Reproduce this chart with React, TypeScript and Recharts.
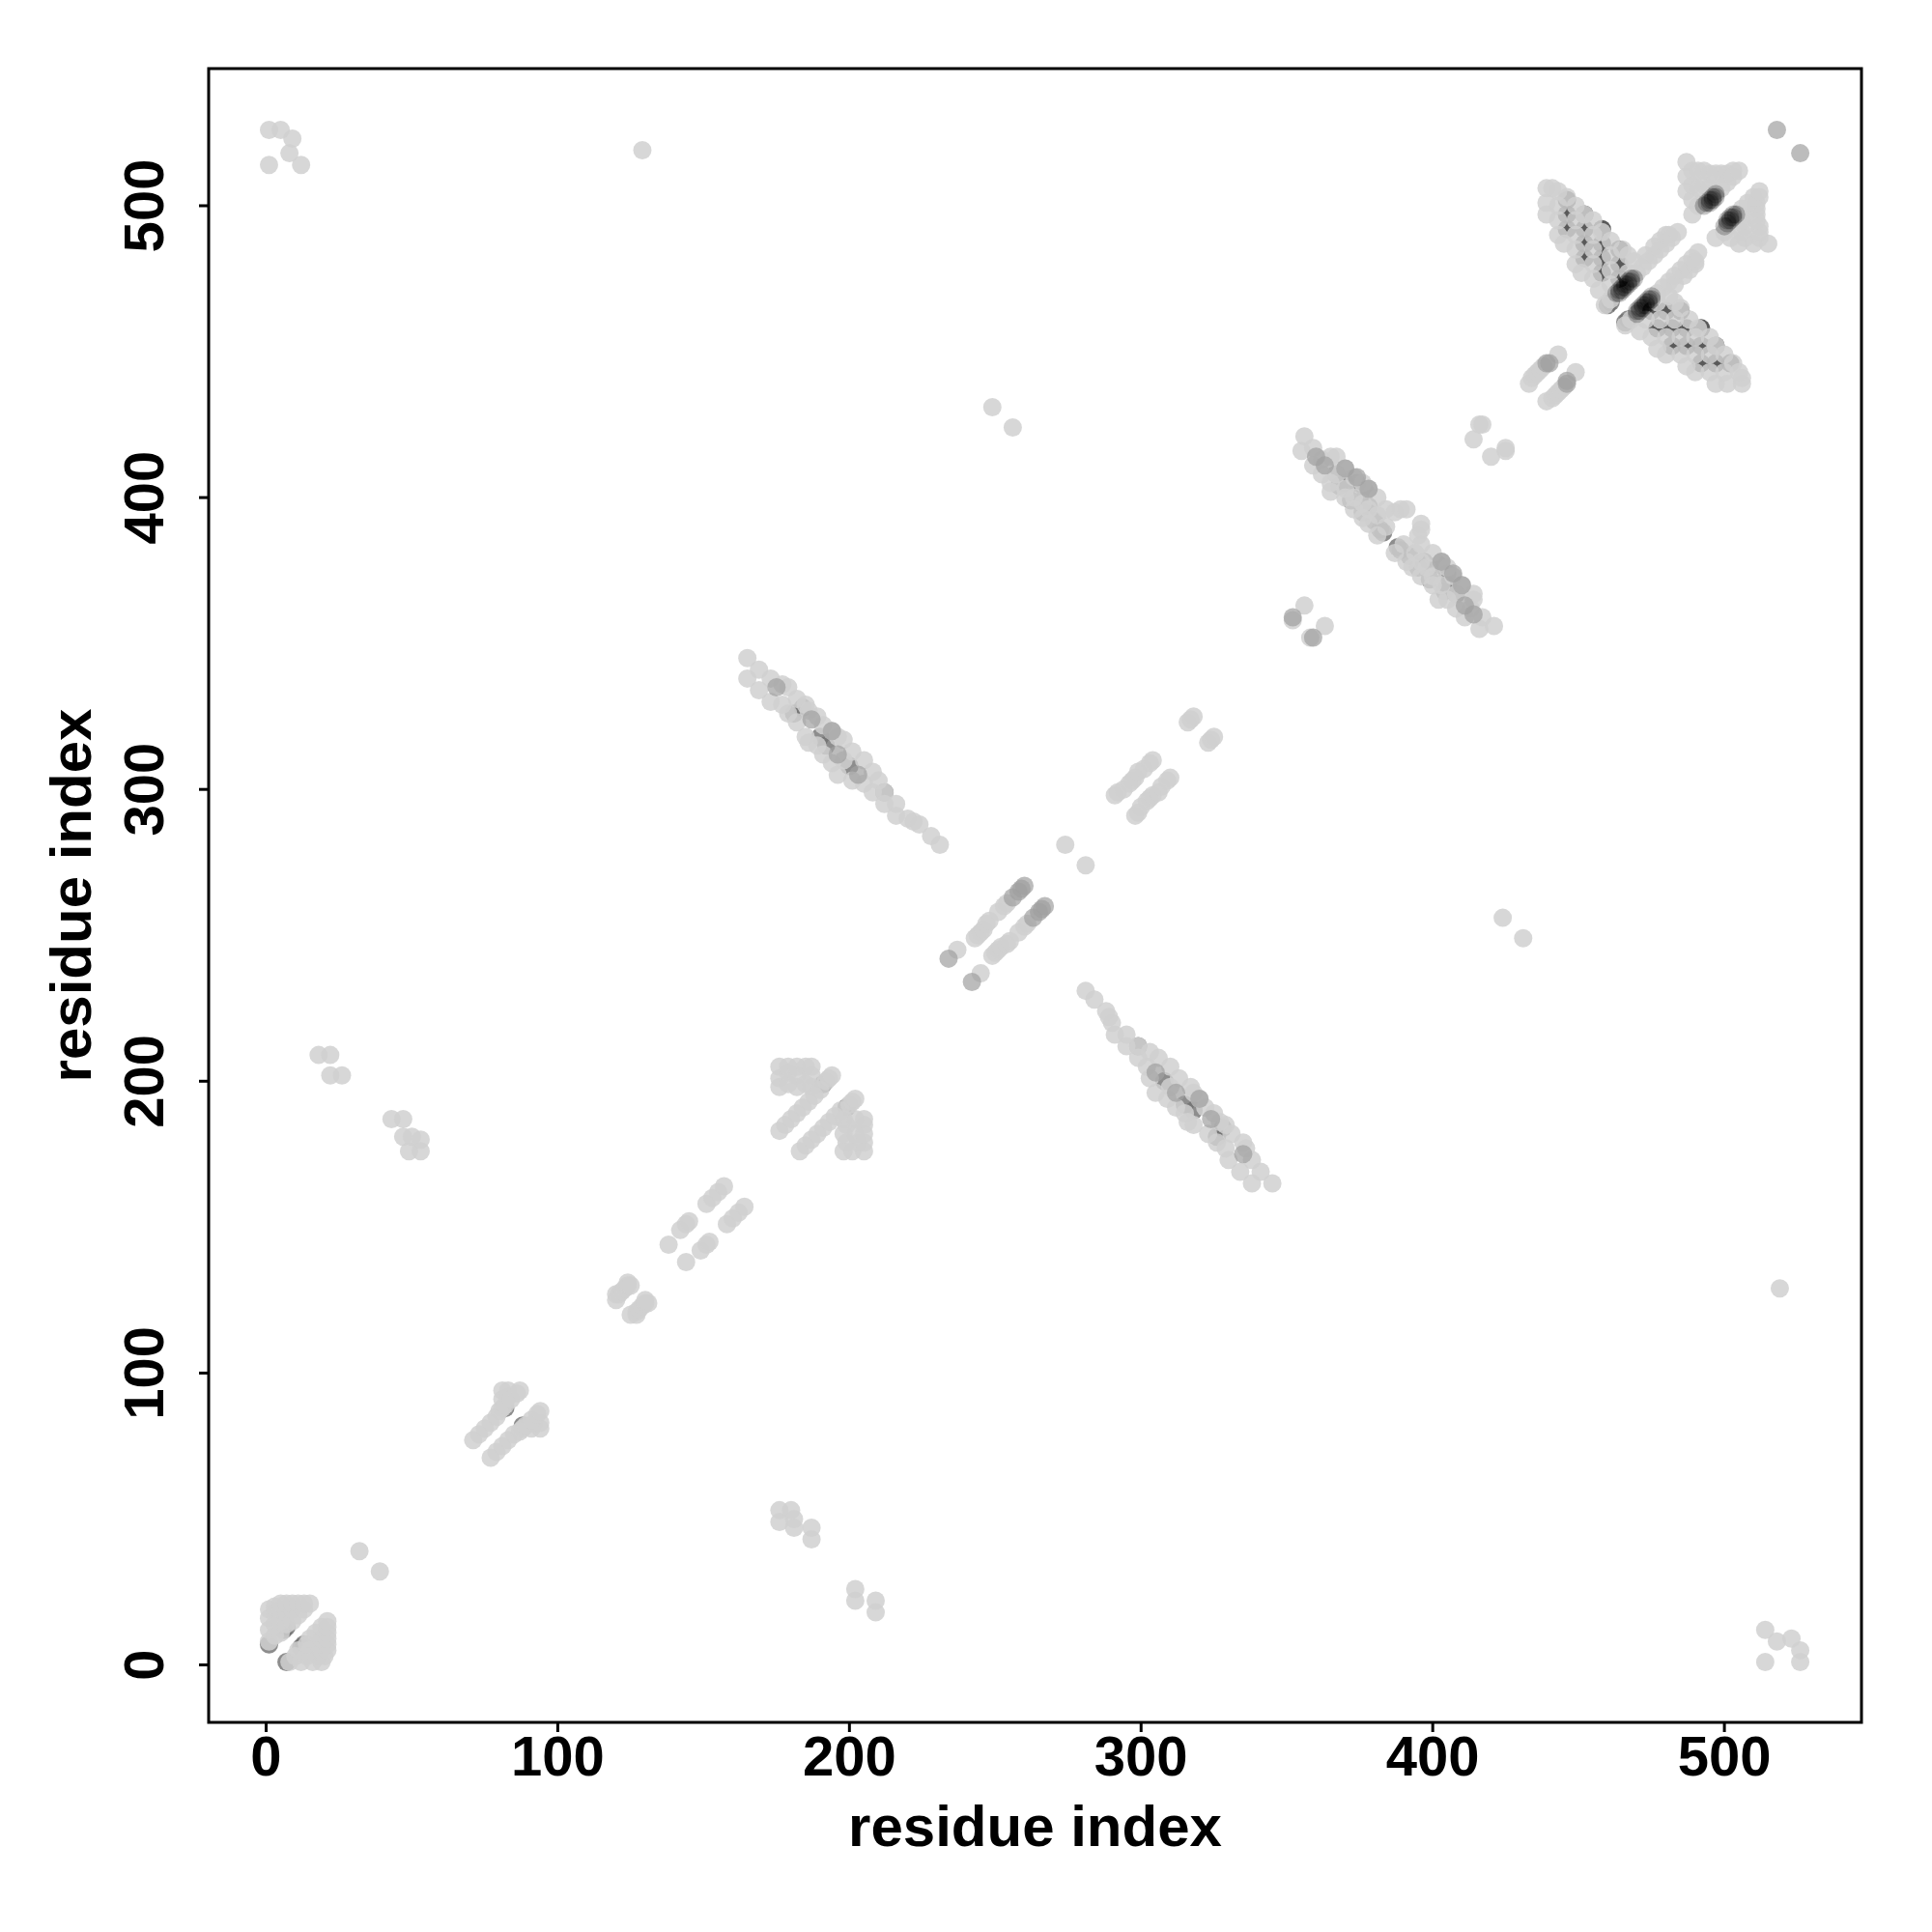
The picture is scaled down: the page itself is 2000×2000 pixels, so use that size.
import { ScatterChart, Scatter, XAxis, YAxis, ReferenceArea } from "recharts"

// Contacts are symmetric, so each row is [residue, partner, partner, ...] with residue < partner
const cornerContacts = [
  [1, 514, 526], [5, 526], [8, 518], [9, 523], [12, 514], [129, 519], [32, 39], [18, 209], [22, 209, 202], [26, 202],
  [43, 187], [47, 187, 181], [49, 176], [50, 181], [53, 176, 180], [249, 431], [256, 424], [274, 281],
]
const nTermContacts = [
  [1, 8, 12, 16, 19], [3, 10, 14, 18, 20], [5, 11, 15, 19, 21], [7, 14, 18, 21], [9, 15, 19, 21], [11, 17, 21], [13, 19, 21], [15, 21],
]
const strandContacts = [
  [71, 77], [73, 79], [75, 81], [77, 83], [79, 85], [80, 87], [81, 88, 91, 94], [82, 89], [83, 92, 94], [84, 91], [86, 93], [87, 94],
  [120, 125, 127], [121, 127], [122, 128], [123, 129], [124, 130, 131], [125, 130],
  [138, 144], [142, 149], [144, 151], [145, 152], [151, 158], [153, 160], [155, 162], [157, 164],
  [176, 183, 198, 201, 205], [178, 185], [179, 199, 203, 205], [180, 187], [182, 189, 198, 202, 205], [184, 191], [185, 199, 205], [186, 193], [187, 198, 202, 205], [188, 195], [190, 197], [192, 200], [193, 201], [194, 202],
  [237, 245], [243, 249], [244, 250], [245, 251], [246, 252], [247, 254], [248, 255], [251, 258], [253, 260], [254, 261],
  [291, 298], [292, 299], [294, 300], [296, 302], [297, 303], [298, 304], [299, 306], [301, 307], [303, 309], [304, 310],
  [316, 323], [317, 324], [318, 325], [352, 358], [356, 363],
  [414, 420], [416, 425], [417, 425], [433, 439], [434, 441], [435, 442], [436, 443], [437, 444], [438, 445], [443, 449],
]
const armOneContacts = [
  [165, 345, 338], [169, 341, 334], [173, 338, 330], [177, 336, 329], [179, 335, 326], [182, 331, 323], [185, 329, 318], [186, 327, 316],
  [189, 325, 315], [191, 322, 312], [194, 320, 309], [196, 318, 305], [198, 317, 310], [201, 313, 303], [205, 310, 302], [208, 306, 299],
  [210, 303], [212, 299, 295], [216, 295, 291], [220, 290], [222, 289], [224, 288], [228, 284], [231, 281],
]
const armTwoContacts = [
  [355, 416], [356, 421], [359, 417, 411], [362, 413, 408], [365, 414, 405, 402], [367, 414, 408], [370, 410, 403, 400], [373, 407, 400, 396],
  [376, 405, 398, 393], [378, 403, 396, 391], [381, 400, 394, 387], [384, 396, 390], [387, 395], [389, 396], [391, 396],
]
const armThreeContacts = [
  [439, 506, 501, 497], [441, 506], [443, 490, 495, 500, 505], [446, 503], [449, 480, 485, 490, 495, 500], [452, 497], [455, 475, 480, 485, 490, 495], [458, 491], [461, 468, 473, 478, 483, 488], [465, 485], [467, 483, 477], [469, 481],
  [445, 487], [451, 477], [457, 471], [459, 466],
  [470, 477], [472, 479], [473, 483], [474, 481], [476, 483, 486], [478, 485, 488], [480, 487, 490], [481, 490], [482, 489], [484, 491],
]
const blockContacts = [
  [487, 515, 510, 505], [489, 512, 507, 502, 497], [491, 512, 506, 500], [493, 512, 507, 501], [495, 511, 506], [497, 511, 505], [499, 511, 506], [501, 511, 508], [503, 512, 510], [505, 512],
]
// Darker contacts that end up mostly hidden under the light ones
const shadowContacts = [
  [1, 7], [7, 13], [6, 12], [82, 88], [191, 199], [181, 326], [184, 328], [190, 318], [192, 315], [200, 308], [212, 299],
  [367, 408], [370, 405], [374, 405], [377, 402], [378, 397], [380, 392], [382, 389], [372, 399], [376, 395], [368, 404], [383, 388],
  [460, 466], [461, 467],
]
const latticeContacts = [
  [446, 492, 497, 502], [452, 482, 487, 492, 497], [458, 477, 482, 487, 492], [464, 475, 480, 485],
]
const midContacts = [
  [234, 242], [256, 263], [258, 265], [259, 266], [260, 267], [352, 359], [439, 446], [440, 446], [518, 526],
  [175, 335], [187, 324], [194, 320], [196, 312], [203, 305],
  [360, 414], [363, 411], [370, 410], [374, 407], [378, 403],
]
const coreContacts = [
  [463, 470], [464, 470], [464, 471], [465, 471], [465, 472], [466, 472], [466, 473], [467, 473], [467, 474], [468, 474], [468, 475], [469, 475],
  [493, 500], [494, 501], [495, 501], [495, 502], [496, 502], [496, 503], [497, 503], [497, 504],
]
const residueTicks = [0, 100, 200, 300, 400, 500]

// Expand rows into points on both sides of the diagonal
const toPoints = (rows: number[][]) =>
  rows.flatMap(([a, ...partners]) => partners.flatMap((b) => [{ x: a, y: b }, { x: b, y: a }]))

const lightPoints = [cornerContacts, nTermContacts, strandContacts, armOneContacts, armTwoContacts, armThreeContacts, blockContacts].flatMap(toPoints)

const FONT = "'Liberation Sans', Arial, sans-serif"

const YTick = ({ x, y, payload }: any) => (
  <text
    x={x}
    y={y}
    transform={`rotate(-90 ${x} ${y})`}
    textAnchor="middle"
    fontFamily={FONT}
    fontWeight="bold"
    fontSize={58}
    fill="#000"
    dy={-2}
  >
    {payload.value}
  </text>
)

const Dot = ({ cx, cy, fill, fillOpacity }: any) => <circle cx={cx} cy={cy} r={9.5} fill={fill} fillOpacity={fillOpacity} />

export default function App() {
  return (
    <div style={{ position: "absolute", left: 0, top: 0, width: 2000, height: 2000, background: "#fff" }}>
      <ScatterChart width={2000} height={2000} margin={{ top: 71, right: 73, bottom: 0, left: 0 }}>
        <XAxis
          type="number"
          dataKey="x"
          domain={[-19.7, 547]}
          allowDataOverflow
          ticks={residueTicks}
          interval={0}
          height={217}
          tickSize={10}
          tickMargin={4}
          axisLine={false}
          tickLine={{ stroke: "#000", strokeWidth: 3 }}
          tick={{ fill: "#000", fontFamily: FONT, fontWeight: "bold", fontSize: 58 }}
          label={{ value: "residue index", position: "insideBottom", offset: 89, fill: "#000", fontFamily: FONT, fontWeight: "bold", fontSize: 60 }}
        />
        <YAxis
          type="number"
          dataKey="y"
          domain={[-19.7, 547]}
          allowDataOverflow
          ticks={residueTicks}
          interval={0}
          width={216}
          tickSize={10}
          tickMargin={35}
          axisLine={false}
          tickLine={{ stroke: "#000", strokeWidth: 3 }}
          tick={<YTick />}
          label={{ value: "residue index", angle: -90, position: "insideLeft", offset: 73, textAnchor: "middle", fill: "#000", fontFamily: FONT, fontWeight: "bold", fontSize: 60 }}
        />
        <Scatter data={toPoints(shadowContacts)} fill="#707070" fillOpacity={0.8} shape={<Dot />} isAnimationActive={false} />
        <Scatter data={toPoints(latticeContacts)} fill="#303030" fillOpacity={0.8} shape={<Dot />} isAnimationActive={false} />
        <Scatter data={lightPoints} fill="#d0d0d0" fillOpacity={0.85} shape={<Dot />} isAnimationActive={false} />
        <Scatter data={toPoints(midContacts)} fill="#a0a0a0" fillOpacity={0.7} shape={<Dot />} isAnimationActive={false} />
        <Scatter data={toPoints(coreContacts)} fill="#000" fillOpacity={0.22} shape={<Dot />} isAnimationActive={false} />
        <ReferenceArea x1={-19.7} x2={547} y1={-19.7} y2={547} fill="none" stroke="#000" strokeWidth={3} />
      </ScatterChart>
    </div>
  )
}
